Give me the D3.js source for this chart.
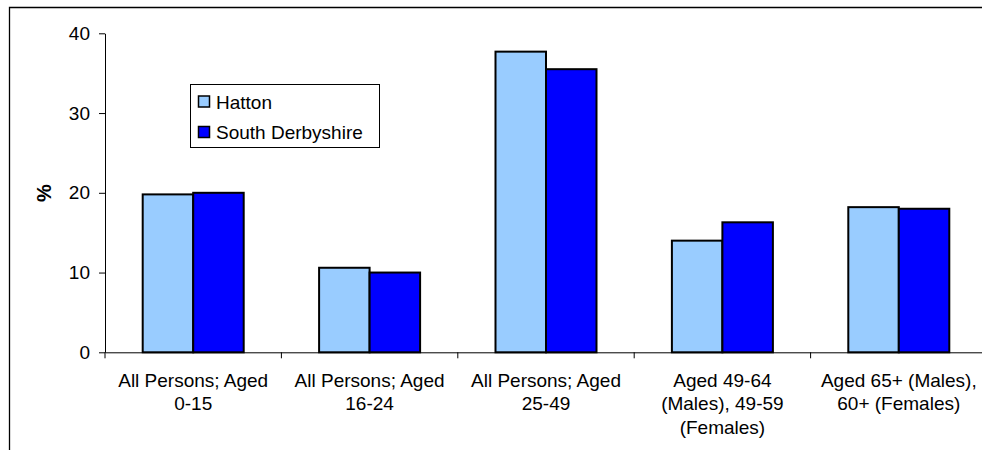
<!DOCTYPE html>
<html><head><meta charset="utf-8">
<script src="https://cdn.jsdelivr.net/npm/d3@7"></script>
<style>html,body{margin:0;padding:0;background:#fff;}svg{display:block;}</style>
</head><body>
<svg id="chart" width="982" height="450"></svg>
<script>
const categories = ["All Persons; Aged 0-15", "All Persons; Aged 16-24", "All Persons; Aged 25-49", "Aged 49-64 (Males), 49-59 (Females)", "Aged 65+ (Males), 60+ (Females)"];
const categoryLines = [["All Persons; Aged", "0-15"], ["All Persons; Aged", "16-24"], ["All Persons; Aged", "25-49"], ["Aged 49-64", "(Males), 49-59", "(Females)"], ["Aged 65+ (Males),", "60+ (Females)"]];
const seriesNames = ["Hatton", "South Derbyshire"];
const hatton = [19.8, 10.6, 37.7, 14.0, 18.2];
const southDerbyshire = [20.0, 10.0, 35.5, 16.3, 18.0];
const yTicks = [0, 10, 20, 30, 40];
const yLabel = "%";
const colors = ["#99CCFF", "#0000FF"];

(function () {
const svg = d3.select("#chart");
const font = "'Liberation Sans', Arial, sans-serif";
const pLeft = 105, pRight = 987, pTop = 33.3, pBottom = 352.3;

// outer frame
svg.append("path").attr("d", "M9.5,450 V7.5 H982").attr("fill", "none").attr("stroke", "#000").attr("stroke-width", 1.3);

const x0 = d3.scaleBand().domain(categories).range([pLeft, pRight]).paddingInner(0).paddingOuter(0);
const x1 = d3.scaleBand().domain(seriesNames).range([0, 101]);
const y = d3.scaleLinear().domain([0, 40]).range([pBottom, pTop]);

// y axis
const yAxis = svg.append("g").attr("transform", `translate(${pLeft},0)`)
  .call(d3.axisLeft(y).tickValues(yTicks).tickSize(6).tickPadding(9).tickSizeOuter(0));
yAxis.select(".domain").attr("stroke", "#000");
yAxis.selectAll(".tick line").attr("stroke", "#000");
yAxis.selectAll("text").attr("font-family", font).attr("font-size", 19).attr("fill", "#000");

// x axis
const xAxis = svg.append("g").attr("transform", `translate(0,${pBottom})`)
  .call(d3.axisBottom(x0).tickSize(0).tickFormat(""));
xAxis.select(".domain").attr("stroke", "#000");
xAxis.selectAll(".tick").remove();
const bounds = categories.map(c => x0(c)).concat([x0(categories[categories.length-1]) + x0.bandwidth()]);
xAxis.selectAll(".bt").data(bounds).enter().append("line")
  .attr("x1", d => d).attr("x2", d => d).attr("y1", 0).attr("y2", 6).attr("stroke", "#000");

// bars
const data = categories.map((c, i) => ({c, vals: [hatton[i], southDerbyshire[i]]}));
const groups = svg.append("g").selectAll("g").data(data).enter().append("g")
  .attr("transform", d => `translate(${x0(d.c) + (x0.bandwidth() - 101) / 2},0)`);
groups.selectAll("rect").data(d => d.vals.map((v, j) => ({v, s: seriesNames[j], j}))).enter().append("rect")
  .attr("x", d => x1(d.s)).attr("width", x1.bandwidth())
  .attr("y", d => y(d.v)).attr("height", d => y(0) - y(d.v))
  .attr("fill", d => colors[d.j]).attr("stroke", "#000").attr("stroke-width", 2);

// category labels
const lab = svg.append("g").selectAll("text").data(categories).enter().append("text")
  .attr("text-anchor", "middle").attr("font-family", font).attr("font-size", 19).attr("fill", "#000");
lab.each(function(c, i) {
  const t = d3.select(this);
  categoryLines[i].forEach((ln, k) => {
    t.append("tspan").attr("x", x0(c) + x0.bandwidth() / 2).attr("y", 387 + k * 23.3).text(ln);
  });
});

// y label
svg.append("text").attr("transform", "translate(50.5,193) rotate(-90)").attr("text-anchor", "middle")
  .attr("font-family", font).attr("font-size", 20).attr("font-weight", "bold").text(yLabel);

// legend
const lg = svg.append("g");
lg.append("rect").attr("x", 190.5).attr("y", 84.5).attr("width", 189).attr("height", 63)
  .attr("fill", "#fff").attr("stroke", "#000").attr("stroke-width", 1);
seriesNames.forEach((s, i) => {
  const yy = 96 + i * 30.5;
  lg.append("rect").attr("x", 198.5).attr("y", yy).attr("width", 11).attr("height", 11)
    .attr("fill", colors[i]).attr("stroke", "#000").attr("stroke-width", 1.5);
  lg.append("text").attr("x", 216).attr("y", yy + 12.5).attr("font-family", font).attr("font-size", 19).text(s);
});
})();
</script>
</body></html>
